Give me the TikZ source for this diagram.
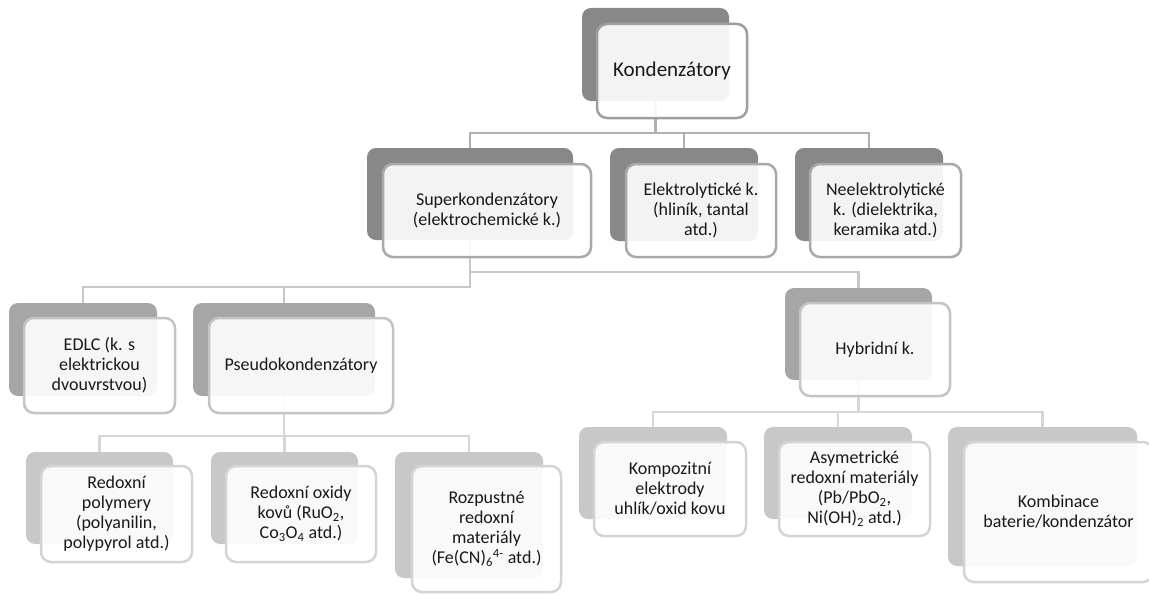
\documentclass[tikz,border=0pt]{standalone}
\usepackage{fontspec}
\setmainfont{Carlito}
\usetikzlibrary{backgrounds}

\definecolor{backA}{HTML}{888888}
\definecolor{backB}{HTML}{A6A6A6}
\definecolor{backC}{HTML}{C8C8C8}
\definecolor{rimA}{HTML}{9E9E9E}
\definecolor{rimB}{HTML}{A9A9A9}
\definecolor{rimC}{HTML}{C4C4C4}
\definecolor{rimD}{HTML}{D4D4D4}
\definecolor{wireA}{HTML}{B0B0B0}
\definecolor{wireB}{HTML}{C8C8C8}
\definecolor{wireC}{HTML}{D6D6D6}

\tikzset{
  backbox/.style={rounded corners=9pt, anchor=north west, inner sep=0pt, outer sep=0pt},
  frontbox/.style={draw, line width=2.5pt, rounded corners=10pt, fill=white, fill opacity=0.9,
    text opacity=1, text=black!90, anchor=north west, inner sep=0pt, outer sep=0pt,
    align=center, font=\fontsize{18}{20}\selectfont},
  branch/.style={line width=2.5pt},
}

\begin{document}
\begin{tikzpicture}[x=1pt,y=-1pt]
  \useasboundingbox (0,0) rectangle (1149,594);

  % back plates
  \node[backbox, fill=backA, minimum width=147pt, minimum height=93pt] (kondB)   at (582,8)   {};
  \node[backbox, fill=backA, minimum width=206pt, minimum height=92pt] (superB)  at (367,148) {};
  \node[backbox, fill=backA, minimum width=148pt, minimum height=93pt] (elektB)  at (610,148) {};
  \node[backbox, fill=backA, minimum width=148pt, minimum height=93pt] (neelB)   at (795,148) {};
  \node[backbox, fill=backB, minimum width=148pt, minimum height=93pt] (edlcB)   at (9,303)   {};
  \node[backbox, fill=backB, minimum width=182pt, minimum height=93pt] (pseudoB) at (193,303) {};
  \node[backbox, fill=backB, minimum width=147pt, minimum height=92pt] (hybB)    at (785,288) {};
  \node[backbox, fill=backC, minimum width=147pt, minimum height=92pt] (polyB)   at (26,452)  {};
  \node[backbox, fill=backC, minimum width=147pt, minimum height=92pt] (oxidB)   at (211,452) {};
  \node[backbox, fill=backC, minimum width=148pt, minimum height=126pt] (rozpB)  at (395,452) {};
  \node[backbox, fill=backC, minimum width=148pt, minimum height=92pt] (kompB)   at (579,427) {};
  \node[backbox, fill=backC, minimum width=148pt, minimum height=92pt] (asymB)   at (764,427) {};
  \node[backbox, fill=backC, minimum width=189pt, minimum height=139pt] (kombB)  at (948,427) {};

  % front cards
  \node[frontbox, draw=rimA, minimum width=150pt, minimum height=94pt, font=\fontsize{21}{24}\selectfont]
    (kond) at ([shift={(15,16)}]kondB.north west) {Kondenzátory};
  \node[frontbox, draw=rimB, minimum width=208pt, minimum height=93pt]
    (super) at ([shift={(16,16)}]superB.north west) {Superkondenzátory\\(elektrochemické k.)};
  \node[frontbox, draw=rimB, minimum width=150pt, minimum height=93pt]
    (elekt) at ([shift={(16,16)}]elektB.north west) {Elektrolytické k.\\(hliník, tantal\\atd.)};
  \node[frontbox, draw=rimB, minimum width=151pt, minimum height=93pt]
    (neel) at ([shift={(15,16)}]neelB.north west) {Neelektrolytické\\k. (dielektrika,\\keramika atd.)};
  \node[frontbox, draw=rimC, minimum width=151pt, minimum height=95pt]
    (edlc) at ([shift={(15,15)}]edlcB.north west) {EDLC (k. s\\elektrickou\\dvouvrstvou)};
  \node[frontbox, draw=rimC, minimum width=184pt, minimum height=95pt]
    (pseudo) at ([shift={(16,15)}]pseudoB.north west) {Pseudokondenzátory};
  \node[frontbox, draw=rimC, minimum width=150pt, minimum height=93pt]
    (hyb) at ([shift={(15,15)}]hybB.north west) {Hybridní k.};
  \node[frontbox, draw=rimD, minimum width=151pt, minimum height=96pt]
    (poly) at ([shift={(15,14)}]polyB.north west) {Redoxní\\polymery\\(polyanilin,\\polypyrol atd.)};
  \node[frontbox, draw=rimD, minimum width=150pt, minimum height=96pt]
    (oxid) at ([shift={(15,14)}]oxidB.north west) {Redoxní oxidy\\kovů (RuO\textsubscript{2},\\Co\textsubscript{3}O\textsubscript{4} atd.)};
  \node[frontbox, draw=rimD, minimum width=149pt, minimum height=126pt]
    (rozp) at ([shift={(17,14)}]rozpB.north west) {Rozpustné\\redoxní\\materiály\\(Fe(CN)\textsubscript{6}\textsuperscript{4-} atd.)};
  \node[frontbox, draw=rimD, minimum width=152pt, minimum height=94pt]
    (komp) at ([shift={(15,15)}]kompB.north west) {Kompozitní\\elektrody\\uhlík/oxid kovu};
  \node[frontbox, draw=rimD, minimum width=151pt, minimum height=94pt]
    (asym) at ([shift={(15,15)}]asymB.north west) {Asymetrické\\redoxní materiály\\(Pb/PbO\textsubscript{2},\\Ni(OH)\textsubscript{2} atd.)};
  \node[frontbox, draw=rimD, minimum width=189pt, minimum height=140pt]
    (komb) at ([shift={(16,15)}]kombB.north west) {Kombinace\\baterie/kondenzátor};

  % connectors
  \begin{scope}[on background layer]
    \coordinate (busA) at (0,133);
    \coordinate (busB) at (0,287);
    \coordinate (busC) at (0,272);
    \coordinate (busD) at (0,436);
    \coordinate (busE) at (0,412);
    \draw[branch, draw=wireA] (kondB.south) -- (kondB.south |- busA) -| (superB.north);
    \draw[branch, draw=wireA] (kondB.south |- busA) -| (elektB.north);
    \draw[branch, draw=wireA] (kondB.south |- busA) -| (neelB.north);
    \draw[branch, draw=wireB] (superB.south) -- (superB.south |- busB) -| (edlcB.north);
    \draw[branch, draw=wireB] (superB.south |- busB) -| (pseudoB.north);
    \draw[branch, draw=wireB] (superB.south |- busC) -| (hybB.north);
    \draw[branch, draw=wireC] (pseudoB.south) -- (pseudoB.south |- busD) -| (polyB.north);
    \draw[branch, draw=wireC] (pseudoB.south |- busD) -| (oxidB.north);
    \draw[branch, draw=wireC] (pseudoB.south |- busD) -| (rozpB.north);
    \draw[branch, draw=wireC] (hybB.south) -- (hybB.south |- busE) -| (kompB.north);
    \draw[branch, draw=wireC] (hybB.south |- busE) -| (asymB.north);
    \draw[branch, draw=wireC] (hybB.south |- busE) -| (kombB.north);
  \end{scope}
\end{tikzpicture}
\end{document}
